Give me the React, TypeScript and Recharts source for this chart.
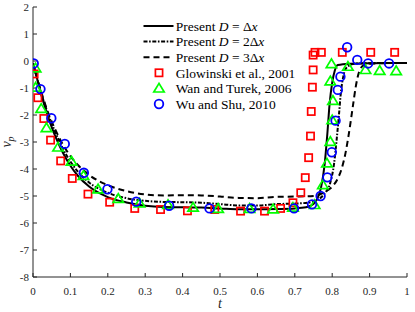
import React from 'react';
import { ComposedChart, Line, Scatter, XAxis, YAxis, Legend, Label } from 'recharts';

const tTicks = [0, 0.1, 0.2, 0.3, 0.4, 0.5, 0.6, 0.7, 0.8, 0.9, 1];
const vTicks = [-8, -7, -6, -5, -4, -3, -2, -1, 0, 1, 2];

const presentDx: [number, number][] = [
  [0, -0.08], [0.01, -0.6], [0.02, -1.15], [0.03, -1.62], [0.04, -2.05], [0.05, -2.45],
  [0.06, -2.8], [0.08, -3.4], [0.1, -3.88], [0.12, -4.25], [0.15, -4.65], [0.2, -5.04],
  [0.25, -5.24], [0.3, -5.36], [0.35, -5.41], [0.4, -5.42], [0.45, -5.43], [0.5, -5.46],
  [0.55, -5.49], [0.6, -5.49], [0.65, -5.48], [0.7, -5.46], [0.73, -5.42], [0.75, -5.3],
  [0.76, -5.1], [0.77, -4.7], [0.78, -3.8], [0.787, -2.7], [0.793, -1.6], [0.8, -0.8],
  [0.807, -0.35], [0.815, -0.15], [0.85, -0.1], [0.9, -0.08], [1.0, -0.07],
];

const present2Dx: [number, number][] = [
  [0, -0.08], [0.02, -1.1], [0.04, -1.95], [0.06, -2.65], [0.08, -3.25], [0.1, -3.72],
  [0.12, -4.1], [0.15, -4.5], [0.2, -4.88], [0.25, -5.08], [0.3, -5.18], [0.35, -5.22],
  [0.4, -5.23], [0.45, -5.25], [0.5, -5.3], [0.55, -5.35], [0.6, -5.35], [0.65, -5.3],
  [0.7, -5.28], [0.74, -5.24], [0.76, -5.15], [0.78, -4.9], [0.795, -4.5], [0.805, -3.8],
  [0.812, -2.9], [0.818, -2.0], [0.823, -1.2], [0.83, -0.55], [0.84, -0.22], [0.86, -0.1],
  [0.9, -0.08], [1.0, -0.07],
];

const present3Dx: [number, number][] = [
  [0, -0.08], [0.02, -1.05], [0.04, -1.9], [0.06, -2.55], [0.08, -3.1], [0.1, -3.52],
  [0.12, -3.85], [0.15, -4.22], [0.2, -4.6], [0.25, -4.82], [0.3, -4.94], [0.35, -4.98],
  [0.4, -4.97], [0.45, -4.98], [0.5, -5.02], [0.55, -5.07], [0.6, -5.08], [0.65, -5.03],
  [0.7, -5.02], [0.75, -5.0], [0.78, -4.85], [0.8, -4.65], [0.815, -4.35], [0.825, -4.0],
  [0.835, -3.45], [0.845, -2.65], [0.855, -1.7], [0.863, -0.95], [0.872, -0.4],
  [0.885, -0.15], [0.9, -0.1], [1.0, -0.07],
];

const glowinski: [number, number][] = [
  [0.003, -0.48], [0.013, -1.36], [0.029, -2.13], [0.047, -2.93], [0.074, -3.7],
  [0.105, -4.35], [0.147, -4.93], [0.205, -5.23], [0.272, -5.46], [0.341, -5.5],
  [0.413, -5.55], [0.486, -5.5], [0.555, -5.56], [0.619, -5.56], [0.662, -5.46],
  [0.695, -5.25], [0.716, -4.88], [0.728, -4.32], [0.737, -3.58], [0.742, -2.78],
  [0.744, -1.87], [0.747, -0.97], [0.749, -0.33], [0.749, 0.22], [0.754, 0.32],
  [0.771, 0.32], [0.827, 0.32], [0.903, 0.32], [0.967, 0.32],
];

const wanTurek: [number, number][] = [
  [0.007, -0.27], [0.007, -0.98], [0.022, -1.77], [0.036, -2.48], [0.067, -3.2],
  [0.103, -3.72], [0.135, -4.25], [0.174, -4.75], [0.228, -5.1], [0.285, -5.27],
  [0.361, -5.33], [0.428, -5.43], [0.495, -5.47], [0.579, -5.47], [0.642, -5.49],
  [0.695, -5.43], [0.753, -5.33], [0.775, -4.59], [0.786, -3.79], [0.795, -2.99],
  [0.8, -2.19], [0.802, -1.47], [0.795, -0.75], [0.798, -0.11], [0.842, -0.21],
  [0.889, -0.33], [0.927, -0.36], [0.971, -0.37],
];

const wuShu: [number, number][] = [
  [0.002, -0.09], [0.02, -1.04], [0.049, -2.12], [0.085, -3.07], [0.136, -4.14],
  [0.199, -4.75], [0.276, -5.21], [0.364, -5.36], [0.472, -5.46], [0.584, -5.46],
  [0.698, -5.46], [0.746, -5.31], [0.769, -5.0], [0.787, -4.31], [0.799, -3.38],
  [0.809, -2.21], [0.815, -1.07], [0.822, -0.58], [0.84, 0.51], [0.867, 0.04],
  [0.896, -0.09], [0.952, -0.09],
];

const toPts = (a: [number, number][]) => a.map(([t, v]) => ({ t, v }));

const RED = '#ff0000';
const GREEN = '#00ff00';
const BLUE = '#0000ff';
const AXIS = '#262626';
const FONT = '"Liberation Serif", "Times New Roman", serif';

const SquareShape = (p: any) => (
  <rect x={p.cx - 3.6} y={p.cy - 3.6} width={7.2} height={7.2} fill="none" stroke={RED} strokeWidth={1.7} />
);
const TriangleShape = (p: any) => (
  <polygon
    points={`${p.cx},${p.cy - 5} ${p.cx - 5.2},${p.cy + 3.6} ${p.cx + 5.2},${p.cy + 3.6}`}
    fill="none"
    stroke={GREEN}
    strokeWidth={1.7}
  />
);
const CircleShape = (p: any) => (
  <circle cx={p.cx} cy={p.cy} r={4.3} fill="none" stroke={BLUE} strokeWidth={1.8} />
);

const legendRows = [
  { kind: 'line', dash: undefined, text: ['Present ', 'D', ' = Δ', 'x'] },
  { kind: 'line', dash: '4 1.6 1.6 1.6', text: ['Present ', 'D', ' = 2Δ', 'x'] },
  { kind: 'line', dash: '6 4', text: ['Present ', 'D', ' = 3Δ', 'x'] },
  { kind: 'square', text: ['Glowinski et al., 2001'] },
  { kind: 'triangle', text: ['Wan and Turek, 2006'] },
  { kind: 'circle', text: ['Wu and Shu, 2010'] },
];

const LegendContent = () => (
  <svg width={170} height={100} style={{ display: 'block', overflow: 'visible' }}>
    {legendRows.map((r, i) => {
      const y = 11 + i * 15.6;
      let mark: React.ReactNode = null;
      if (r.kind === 'line') {
        mark = <line x1={3.5} x2={33.5} y1={y} y2={y} stroke="#000" strokeWidth={2} strokeDasharray={r.dash} />;
      } else if (r.kind === 'square') {
        mark = <SquareShape cx={19} cy={y} />;
      } else if (r.kind === 'triangle') {
        mark = <TriangleShape cx={19} cy={y} />;
      } else {
        mark = <CircleShape cx={19} cy={y} />;
      }
      return (
        <g key={i}>
          {mark}
          <text x={35.7} y={y} dy="0.35em" fontFamily={FONT} fontSize={13.5} fill="#000">
            {r.text.length === 1 ? (
              r.text[0]
            ) : (
              <>
                <tspan>{r.text[0]}</tspan>
                <tspan fontStyle="italic">{r.text[1]}</tspan>
                <tspan>{r.text[2]}</tspan>
                <tspan fontStyle="italic">{r.text[3]}</tspan>
              </>
            )}
          </text>
        </g>
      );
    })}
  </svg>
);

const YLabel = (props: any) => {
  const vb = props.viewBox || { x: 0, y: 0, width: 33, height: 270 };
  const x = vb.x + 11;
  const y = vb.y + vb.height / 2;
  return (
    <text x={x} y={y} transform={`rotate(-90 ${x} ${y})`} textAnchor="middle" fontFamily={FONT} fontSize={14} fill={AXIS} fontStyle="italic">
      v<tspan fontSize={10} dy={3}>p</tspan>
    </text>
  );
};

const tickStyle = { fill: AXIS, fontSize: 11, fontFamily: FONT };

export default function App() {
  return (
    <div style={{ position: 'absolute', left: 0, top: 0, width: 415, height: 312, background: '#fff' }}>
      <ComposedChart width={415} height={312} margin={{ top: 7, right: 8, bottom: 0, left: 0 }}>
        <XAxis
          xAxisId="main"
          dataKey="t"
          type="number"
          domain={[0, 1]}
          ticks={tTicks}
          interval={0}
          height={35}
          stroke={AXIS}
          tickSize={-4}
          tickMargin={14}
          tick={tickStyle}
          allowDataOverflow
        >
          <Label value="t" position="insideBottom" offset={4} style={{ fontStyle: 'italic', fontSize: 14, fontFamily: FONT, fill: AXIS }} />
        </XAxis>
        <XAxis
          xAxisId="top"
          orientation="top"
          dataKey="t"
          type="number"
          domain={[0, 1]}
          ticks={tTicks}
          interval={0}
          height={0}
          stroke={AXIS}
          tickSize={-4}
          tick={false}
          allowDataOverflow
        />
        <YAxis
          yAxisId="main"
          dataKey="v"
          type="number"
          domain={[-8, 2]}
          ticks={vTicks}
          interval={0}
          width={33}
          stroke={AXIS}
          tickSize={-4}
          tickMargin={8}
          tick={tickStyle}
          allowDataOverflow
          label={<YLabel />}
        />
        <YAxis
          yAxisId="right"
          orientation="right"
          dataKey="v"
          type="number"
          domain={[-8, 2]}
          ticks={vTicks}
          interval={0}
          width={0}
          stroke={AXIS}
          tickSize={-4}
          tick={false}
          allowDataOverflow
        />
        <Legend
          layout="vertical"
          align="center"
          verticalAlign="middle"
          content={<LegendContent />}
          wrapperStyle={{ left: 140, top: 15, width: 170, height: 100 }}
        />
        <Line xAxisId="main" yAxisId="main" data={toPts(presentDx)} dataKey="v" type="monotone" stroke="#000" strokeWidth={2} dot={false} isAnimationActive={false} name="D1" />
        <Line xAxisId="main" yAxisId="main" data={toPts(present2Dx)} dataKey="v" type="monotone" stroke="#000" strokeWidth={2} strokeDasharray="4 1.6 1.6 1.6" dot={false} isAnimationActive={false} name="D2" />
        <Line xAxisId="main" yAxisId="main" data={toPts(present3Dx)} dataKey="v" type="monotone" stroke="#000" strokeWidth={2} strokeDasharray="6 4" dot={false} isAnimationActive={false} name="D3" />
        <Scatter xAxisId="main" yAxisId="main" data={toPts(glowinski)} shape={SquareShape} isAnimationActive={false} name="Glowinski" />
        <Scatter xAxisId="main" yAxisId="main" data={toPts(wanTurek)} shape={TriangleShape} isAnimationActive={false} name="Wan" />
        <Scatter xAxisId="main" yAxisId="main" data={toPts(wuShu)} shape={CircleShape} isAnimationActive={false} name="Wu" />
      </ComposedChart>
    </div>
  );
}
